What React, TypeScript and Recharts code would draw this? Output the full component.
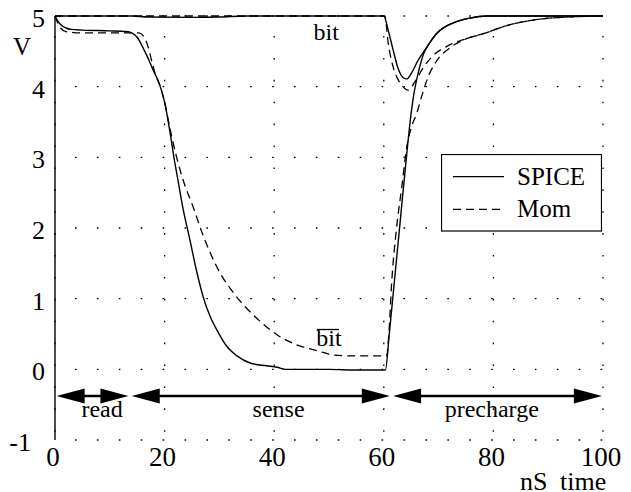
import { LineChart, Line, XAxis, YAxis, CartesianGrid, ReferenceLine, ReferenceDot, Legend, Label } from "recharts";

// [time ns, volts]
const spiceBit = [
  [0, 5], [14, 5], [17, 4.985], [25, 4.98], [30, 4.985], [35, 5], [60, 5],
  [60.8, 4.8], [61.7, 4.52], [62.6, 4.26], [63.5, 4.13], [64.2, 4.11], [65.1, 4.2],
  [66.3, 4.38], [67.5, 4.52], [68.2, 4.6], [69.6, 4.75], [71, 4.84], [72.6, 4.9],
  [75.7, 4.97], [78.8, 5], [100, 5],
];
const spiceBitBar = [
  [0, 5], [0.5, 4.93], [1, 4.88], [2, 4.83], [3, 4.81], [5, 4.8], [10, 4.79], [13, 4.78],
  [14, 4.76], [15, 4.7], [16, 4.56], [17, 4.4], [18, 4.22], [19, 4.05], [20, 3.78],
  [21, 3.35], [21.7, 3.0], [22.5, 2.65], [23.3, 2.3], [24.6, 1.84], [25.9, 1.37],
  [27.1, 1.01], [28.3, 0.75], [29.8, 0.52], [31.3, 0.33], [33.2, 0.19], [35.6, 0.09],
  [38.6, 0.05], [40.5, 0.03], [42, 0], [50, 0], [55, -0.01], [60.3, -0.01], [61, 0.5],
  [62, 1.3], [63, 2.1], [64, 2.9], [64.8, 3.5], [65.5, 3.9], [66.3, 4.2], [67.2, 4.45],
  [68.2, 4.6], [69.6, 4.75], [71, 4.84], [72.6, 4.9], [75.7, 4.97], [78.8, 5], [100, 5],
];
const momBit = [
  [0, 5], [60.2, 5], [60.8, 4.62], [61.7, 4.28], [62.6, 4.1], [63.5, 4.0], [64.4, 3.95],
  [65.7, 4.07], [67.2, 4.27], [69, 4.44], [71.5, 4.57], [75.1, 4.68], [78.2, 4.75],
  [81.8, 4.85], [84.3, 4.9], [89, 4.96], [95, 4.99], [100, 5],
];
const momBitBar = [
  [0, 5], [0.5, 4.9], [1, 4.83], [2, 4.78], [3, 4.77], [5, 4.76], [15.3, 4.76],
  [16.3, 4.7], [17, 4.56], [17.6, 4.38], [18.3, 4.18], [19.2, 4.0], [20, 3.78], [21, 3.4],
  [22.2, 3.0], [23.5, 2.65], [25.2, 2.3], [27, 1.9], [30, 1.38], [33, 1.04], [37, 0.71],
  [40.5, 0.49], [44, 0.35], [48, 0.26], [51, 0.2], [54, 0.19], [60.5, 0.19], [61, 0.6],
  [61.4, 1.18], [62.3, 1.98], [63.3, 2.59], [64.2, 3.15], [65.1, 3.44], [66, 3.62],
  [66.9, 3.86], [68.1, 4.14], [69.6, 4.36], [72.1, 4.55], [75.1, 4.68], [78.2, 4.75],
  [81.8, 4.85], [84.3, 4.9], [89, 4.96], [95, 4.99], [100, 5],
];

const xTicks = [0, 20, 40, 60, 80, 100];
const yTicks = [-1, 0, 1, 2, 3, 4, 5];

const legendItems = [
  { name: "SPICE", dash: undefined as string | undefined },
  { name: "Mom", dash: "8 5" },
];

// phase arrows: from, to (ns), label position
const phases = [
  { name: "read", from: 0.3, to: 13.4, labelAt: 8.6 },
  { name: "sense", from: 14.0, to: 61.1, labelAt: 40.8 },
  { name: "precharge", from: 61.7, to: 99.8, labelAt: 79.7 },
];
const arrowV = -0.377;
const phaseLabelV = -0.68;

const curveLabels = [
  { text: "bit", t: 49.5, v: 4.66, bar: false },
  { text: "bit", t: 50, v: 0.33, bar: true },
];

const toPts = (arr: number[][]) => arr.map(([t, v]) => ({ t, v }));

const FONT = '"Liberation Serif", "Times New Roman", Times, serif';

const DoubleArrow = (props: any) => {
  const { x1, y1, x2 } = props;
  const L = 28;
  const H = 7.5;
  return (
    <g>
      <line x1={x1 + 8} y1={y1} x2={x2 - 8} y2={y1} stroke="#000" strokeWidth={2.4} />
      <polygon points={`${x1},${y1} ${x1 + L},${y1 - H} ${x1 + L},${y1 + H}`} fill="#000" />
      <polygon points={`${x2},${y1} ${x2 - L},${y1 - H} ${x2 - L},${y1 + H}`} fill="#000" />
    </g>
  );
};

const textShape = (text: string, bar: boolean, size: number) => (props: any) => {
  const { cx, cy } = props;
  return (
    <g>
      <text x={cx} y={cy} textAnchor="middle" fontFamily={FONT} fontSize={size} fill="#000">
        {text}
      </text>
      {bar && <line x1={cx - 12} y1={cy - 16.5} x2={cx + 10} y2={cy - 16.5} stroke="#000" strokeWidth={1.3} />}
    </g>
  );
};

const YTick = (props: any) => {
  const { y, payload } = props;
  return (
    <text x={payload.value < 0 ? 31 : 45} y={y + 11} textAnchor="end" fontFamily={FONT} fontSize={26} fill="#000">
      {payload.value}
    </text>
  );
};

const XTick = (props: any) => {
  const { x, payload } = props;
  return (
    <text x={x - 2} y={466} textAnchor="middle" fontFamily={FONT} fontSize={27} fill="#000">
      {payload.value}
    </text>
  );
};

const LegendBox = () => (
  <svg width={161} height={78} style={{ display: "block" }}>
    <rect x={0.5} y={0.5} width={160} height={76.5} fill="#fff" stroke="#000" strokeWidth={1.2} />
    {legendItems.map((it, i) => (
      <g key={it.name}>
        <line
          x1={12}
          x2={63}
          y1={22.7 + i * 32.6}
          y2={22.7 + i * 32.6}
          stroke="#000"
          strokeWidth={1.3}
          strokeDasharray={it.dash}
        />
        <text x={76} y={31 + i * 31.7} fontFamily={FONT} fontSize={25} fill="#000">
          {it.name}
        </text>
      </g>
    ))}
  </svg>
);

export default function App() {
  return (
    <div style={{ width: 631, height: 492, fontFamily: FONT }}>
      <style>{`body{margin:0}`}</style>
      <LineChart width={631} height={492} margin={{ top: 16, right: 28, bottom: 0, left: 0 }}>
        <CartesianGrid
          stroke="#000"
          strokeWidth={1.3}
          strokeDasharray="1.6 20.3"
          strokeDashoffset={1.9}
        />
        <XAxis
          type="number"
          dataKey="t"
          domain={[0, 100]}
          ticks={xTicks}
          interval={0}
          height={52}
          axisLine={false}
          tickLine={false}
          tick={<XTick />}
        >
          <Label
            content={() => (
              <text y={490} fontFamily={FONT} fontSize={26} fill="#000">
                <tspan x={520}>nS</tspan>
                <tspan x={560}>time</tspan>
              </text>
            )}
          />
        </XAxis>
        <YAxis
          type="number"
          domain={[-1, 5]}
          ticks={yTicks}
          interval={0}
          width={55}
          axisLine={{ stroke: "#000", strokeWidth: 1.4 }}
          tickLine={false}
          tick={<YTick />}
        >
          <Label
            content={() => (
              <text x={13} y={55} fontFamily={FONT} fontSize={25} fill="#000">
                V
              </text>
            )}
          />
        </YAxis>
        <Line data={toPts(momBit)} dataKey="v" name="Mom bit" type="monotone" stroke="#000" strokeWidth={1.3} strokeDasharray="8 5" dot={false} isAnimationActive={false} />
        <Line data={toPts(momBitBar)} dataKey="v" name="Mom bitbar" type="monotone" stroke="#000" strokeWidth={1.3} strokeDasharray="8 5" dot={false} isAnimationActive={false} />
        <Line data={toPts(spiceBit)} dataKey="v" name="SPICE bit" type="monotone" stroke="#000" strokeWidth={1.4} dot={false} isAnimationActive={false} />
        <Line data={toPts(spiceBitBar)} dataKey="v" name="SPICE bitbar" type="monotone" stroke="#000" strokeWidth={1.4} dot={false} isAnimationActive={false} />
        {phases.map((p) => (
          <ReferenceLine
            key={p.name}
            segment={[{ x: p.from, y: arrowV }, { x: p.to, y: arrowV }]}
            shape={DoubleArrow}
          />
        ))}
        {phases.map((p) => (
          <ReferenceDot key={"l" + p.name} x={p.labelAt} y={phaseLabelV} r={0} shape={textShape(p.name, false, 24)} />
        ))}
        {curveLabels.map((c, i) => (
          <ReferenceDot key={"c" + i} x={c.t} y={c.v} r={0} shape={textShape(c.text, c.bar, 24)} />
        ))}
        <Legend
          layout="horizontal"
          verticalAlign="middle"
          align="center"
          content={<LegendBox />}
          wrapperStyle={{ left: 441, top: 154, width: 161, height: 78 }}
        />
      </LineChart>
    </div>
  );
}
